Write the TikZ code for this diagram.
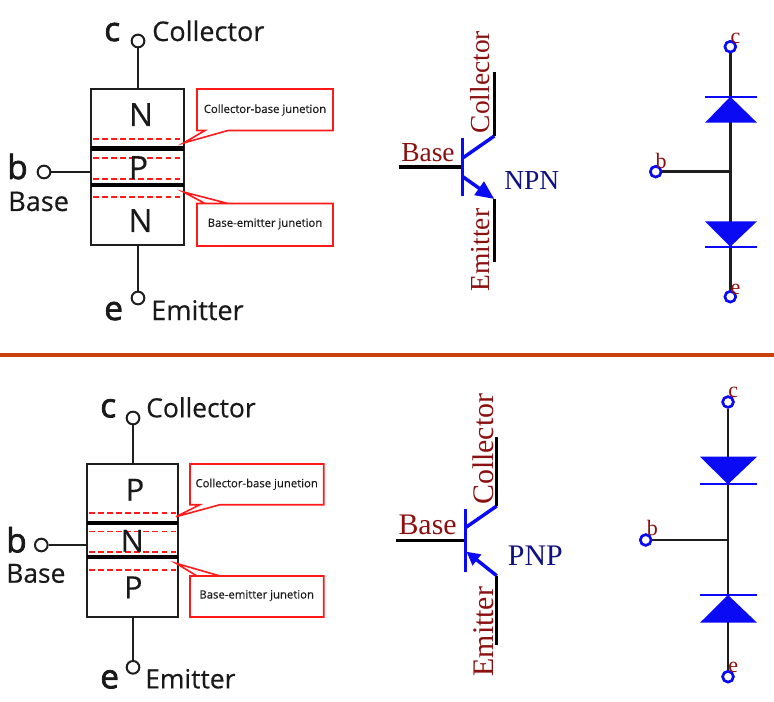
\documentclass[tikz,border=0pt]{standalone}
\usepackage{fontspec}
\setmainfont{Liberation Serif}
\newfontfamily\opensans[FakeBold=0.35]{Open Sans}
\newfontfamily\opensansb[FakeBold=2.2]{Open Sans}
\usetikzlibrary{arrows.meta}
\definecolor{inkk}{HTML}{1E1E1E}
\definecolor{redd}{HTML}{FF1A1A}
\definecolor{maroonn}{HTML}{8B1010}
\definecolor{navyy}{HTML}{101080}
\definecolor{bluee}{HTML}{0A0AF5}
\definecolor{rulee}{HTML}{C8410F}
\tikzset{
  x=.75pt,y=-.75pt,
  term/.style={circle,draw=inkk,fill=white,line width=1.5pt,minimum size=9.5pt,inner sep=0pt},
  wire/.style={draw=inkk,line width=1.5pt},
  layerbox/.style={draw=inkk,fill=white,line width=1.7pt,inner sep=0pt},
  junction/.style={draw=black,line width=3.1pt},
  depl/.style={draw=redd,line width=.95pt,dash pattern=on 4.2pt off 2.6pt},
  callout/.style={draw=redd,fill=white,line width=1.2pt,line join=miter},
  calltext/.style={font=\opensans\fontsize{8.5}{10}\selectfont,text=black!90,inner sep=0pt},
  lab/.style={font=\opensans\fontsize{20.3}{24}\selectfont,text=black!90,anchor=base west,inner sep=0pt},
  biglab/.style={font=\opensansb\fontsize{25}{30}\selectfont,text=black!90,anchor=base west,inner sep=0pt},
  layer/.style={font=\opensans\fontsize{24}{28}\selectfont,text=black!90,anchor=base,inner sep=0pt},
  serifa/.style={font=\fontsize{20.6}{24}\selectfont,text=maroonn,anchor=base west,inner sep=0pt},
  serifb/.style={font=\fontsize{22.4}{26}\selectfont,text=maroonn,anchor=base west,inner sep=0pt},
  kind/.style={text=navyy,anchor=base west,inner sep=0pt},
  small/.style={font=\fontsize{16.5}{20}\selectfont,text=maroonn,inner sep=0pt},
  bluebar/.style={draw=bluee,line width=2.6pt},
  blackbar/.style={draw=black,line width=2.3pt},
  dwire/.style={draw=inkk,line width=1.8pt},
  dterm/.style={circle,draw=bluee,fill=white,line width=1.9pt,minimum size=8pt,inner sep=0pt},
  diode/.style={fill=bluee},
  dbar/.style={draw=bluee,line width=1.7pt},
}
\begin{document}
\begin{tikzpicture}
\useasboundingbox[fill=white] (0,0) rectangle (774,702);
% ---- separator
\coordinate (sepL) at (0,355); \coordinate (sepR) at (774,355);
\draw[rulee,line width=3pt] (sepL) -- (sepR);

% ---- top left: NPN layers
\node[layerbox,minimum width=69.75pt,minimum height=117pt] (tbox) at (137.5,167) {};
\node[term] (tc) at (138,41) {};
\node[term] (tb) at (44,172) {};
\node[term] (te) at (138,298) {};
\draw[wire] (tc) -- (tc |- tbox.north);
\draw[wire] (te) -- (te |- tbox.south);
\draw[wire] (tb) -- (tb -| tbox.west);
\foreach \yy in {139,158,179,197}{\draw[depl] (93,\yy) -- (183,\yy);}
\draw[junction] (91,148.5) -- (184,148.5);
\draw[junction] (91,185) -- (184,185);
\node[layer] (tn1) at (141,126) {N};
\node[layer] (tp) at (138.5,179) {P};
\node[layer] (tn2) at (140.5,232) {N};
\draw[callout] (197,89) -- (333,89) -- (333,130.5) -- (228,130.5) -- (183.5,143) -- (205,130.5) -- (197,130.5) -- cycle;
\draw[callout] (197,203.5) -- (333,203.5) -- (333,246) -- (197,246) -- (197,203.5) -- (205,203.5) -- (183.5,192) -- (228,203.5) -- cycle;
\node[calltext] (tcb) at (265,110) {Collector-base junetion};
\node[calltext] (tbe) at (265,224) {Base-emitter junetion};
\node[biglab] (tcl) at (104,41) {c};
\node[lab] (tcol) at (152,41) {Collector};
\node[biglab] (tbl) at (7,179) {b};
\node[lab] (tbas) at (8,211) {Base};
\node[biglab] (tel) at (104,320) {e};
\node[lab] (tem) at (151,320) {Emitter};

% ---- top middle: NPN symbol
\coordinate (tB0) at (399.3,167); \coordinate (tB1) at (462.3,167);
\coordinate (tBarB) at (462.3,196);
\coordinate (tCd) at (494.3,136); \coordinate (tCu) at (494.3,72.3);
\coordinate (tEd) at (494.3,199); \coordinate (tEu) at (494.3,262.3);
\draw[blackbar] (tB0) -- (tB1);
\draw[bluebar] (462.3,138.3) -- (tBarB);
\draw[bluebar] (462.3,158.3) -- (tCd);
\draw[blackbar] (tCd) -- (tCu);
\draw[blackbar] (tEd) -- (tEu);
\draw[bluebar,-{Triangle[length=14pt,width=12pt]}] (462.8,176.7) -- (tEd);
\node[serifa] (tBase) at (401,161.7) {Base};
\node[serifa,rotate=90] (tColl) at (489.3,133.5) {Collector};
\node[serifa,rotate=90] (tEmit) at (489.3,291.5) {Emitter};
\node[serifa,kind] (tNPN) at (504,190) {NPN};

% ---- top right: diodes
\node[dterm] (dtc) at (730.3,46.7) {};
\node[dterm] (dtb) at (655.7,171.7) {};
\node[dterm] (dte) at (730.3,296.7) {};
\coordinate (dtj) at (730.3,171.7);
\draw[dwire] (dtc) -- (dte);
\draw[dwire] (dtb) -- (dtj);
\fill[diode] (730.3,96.7) -- (757,122.7) -- (705,122.7) -- cycle;
\draw[dbar] (705,96.7) -- (757,96.7);
\fill[diode] (730.3,246.7) -- (757,221.3) -- (705,221.3) -- cycle;
\draw[dbar] (705,246.7) -- (757,246.7);
\node[dterm] at (dtc) {}; \node[dterm] at (dtb) {}; \node[dterm] at (dte) {};
\node[small] (dtcl) at (735.5,38) {c};
\node[small] (dtbl) at (661,161) {b};
\node[small] (dtel) at (735.5,289) {e};

% ---- bottom left: PNP layers
\node[layerbox,minimum width=68.25pt,minimum height=114.75pt] (bbox) at (132.7,540.7) {};
\node[term] (bc) at (133,418) {};
\node[term] (bb) at (41.3,545) {};
\node[term] (be) at (133,667.3) {};
\draw[wire] (bc) -- (bc |- bbox.north);
\draw[wire] (be) -- (be |- bbox.south);
\draw[wire] (bb) -- (bb -| bbox.west);
\foreach \yy in {513,531.7,552,570}{\draw[depl] (89,\yy) -- (176.5,\yy);}
\draw[junction] (87.3,522.7) -- (178,522.7);
\draw[junction] (87.3,557.3) -- (178,557.3);
\node[layer,font=\opensans\fontsize{23}{26}\selectfont] (bp1) at (135,500.7) {P};
\node[layer,font=\opensans\fontsize{23}{26}\selectfont] (bn) at (132.3,551.7) {N};
\node[layer,font=\opensans\fontsize{23}{26}\selectfont] (bp2) at (133.3,598.3) {P};
\draw[callout] (190,464) -- (323.7,464) -- (323.7,504.7) -- (220,504.7) -- (176,516.7) -- (200,504.7) -- (190,504.7) -- cycle;
\draw[callout] (190,576) -- (323.7,576) -- (323.7,617) -- (190,617) -- (190,576) -- (197,576) -- (176,563.3) -- (220,576) -- cycle;
\node[calltext] (bcb) at (256.7,484.3) {Collector-base junetion};
\node[calltext] (bbe) at (256.7,595.7) {Base-emitter junetion};
\node[biglab] (bcl) at (100,417.3) {c};
\node[lab,font=\opensans\fontsize{19.8}{24}\selectfont] (bcol) at (146,417.3) {Collector};
\node[biglab] (bbl) at (6,552.3) {b};
\node[lab,font=\opensans\fontsize{19.8}{24}\selectfont] (bbas) at (6,582.7) {Base};
\node[biglab] (bel) at (100,688.3) {e};
\node[lab,font=\opensans\fontsize{19.8}{24}\selectfont] (bem) at (145,688.3) {Emitter};

% ---- bottom middle: PNP symbol
\coordinate (bB0) at (395.7,540.7); \coordinate (bB1) at (465.3,540.7);
\coordinate (bBarB) at (465.3,572.3);
\coordinate (bCd) at (496.7,506); \coordinate (bCu) at (496.7,436.7);
\coordinate (bEd) at (496.7,575.7); \coordinate (bEu) at (496.7,645);
\coordinate (bEt) at (466.5,551.7);
\draw[blackbar] (bB0) -- (bB1);
\draw[bluebar] (465.3,509.3) -- (bBarB);
\draw[bluebar] (466,527.3) -- (bCd);
\draw[blackbar] (bCd) -- (bCu);
\draw[blackbar] (bEd) -- (bEu);
\draw[bluebar,-{Triangle[length=10pt,width=10pt]}] (bEd) -- (bEt);
\node[serifb] (bBase) at (398.3,534.3) {Base};
\node[serifb,rotate=90] (bColl) at (493.7,505) {Collector};
\node[serifb,rotate=90] (bEmit) at (493.7,676.7) {Emitter};
\node[serifb,kind] (bPNP) at (507.7,565) {PNP};

% ---- bottom right: diodes
\node[dterm] (dbc) at (728,402) {};
\node[dterm] (dbb) at (645.7,540) {};
\node[dterm] (dbe) at (728,676.7) {};
\coordinate (dbj) at (728,540);
\draw[dwire] (dbc) -- (dbe);
\draw[dwire] (dbb) -- (dbj);
\fill[diode] (728,484.3) -- (757,456.7) -- (700,456.7) -- cycle;
\draw[dbar] (700,484.3) -- (757,484.3);
\fill[diode] (728,595) -- (757,622.7) -- (700,622.7) -- cycle;
\draw[dbar] (700,595) -- (757,595);
\node[dterm] at (dbc) {}; \node[dterm] at (dbb) {}; \node[dterm] at (dbe) {};
\node[small] (dbcl) at (733.3,392) {c};
\node[small] (dbbl) at (652.3,527.5) {b};
\node[small] (dbel) at (733.3,667.5) {e};
\end{tikzpicture}
\end{document}
